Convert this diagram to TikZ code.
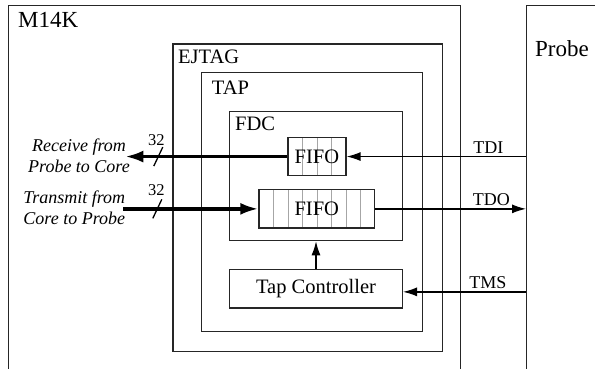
\documentclass[tikz,border=0pt]{standalone}
\usepackage{fontspec}
\setmainfont{Liberation Serif}
\usetikzlibrary{arrows.meta,positioning}
\tikzstyle{frame}   = [rectangle, draw=black!85, line width=1.3pt, inner sep=0pt, anchor=north west]
\tikzstyle{caption} = [anchor=base west, inner sep=0pt, font=\fontsize{20.5}{24}\selectfont]
\tikzstyle{block}   = [rectangle, draw=black!85, line width=1.3pt, inner sep=0pt, anchor=north west, minimum height=38.4pt, font=\fontsize{20.5}{24}\selectfont]
\tikzstyle{signal}  = [draw, line width=1.3pt, -{Latex[length=14pt,width=9pt]}]
\tikzstyle{bus}     = [draw, line width=3.3pt, -{Latex[length=18pt,width=12pt]}]
\tikzstyle{signame} = [above, inner sep=2.5pt, font=\fontsize{18}{21}\selectfont]
\tikzstyle{note}    = [anchor=north, inner sep=0pt, align=center, font=\fontsize{18}{21}\selectfont\itshape]
\tikzstyle{busmark} = [draw, line width=1.3pt]
\tikzset{cells/.style={path picture={
  \foreach \k in {1,...,#1}
    \draw[gray!70, line width=0.9pt] ([xshift=\k*14.5pt]path picture bounding box.south west) -- ([xshift=\k*14.5pt]path picture bounding box.north west);}}}

\begin{document}
\begin{tikzpicture}[x=1pt, y=-1pt]
            \useasboundingbox (0,0) rectangle (595,368);

            \node[frame, minimum width=452pt, minimum height=420pt] (m14k) at (8,4.7) {};
            \node[frame, minimum width=120pt, minimum height=420pt] (probe) at (526,4.7) {};
            \node[frame, minimum width=269.2pt, minimum height=307.4pt] (ejtag) at (172.3,43.3) {};
            \node[frame, minimum width=220.7pt, minimum height=259pt] (tap) at (201,72) {};
            \node[frame, minimum width=172.7pt, minimum height=129.3pt] (fdc) at (229,110.7) {};

            \node[caption, font=\fontsize{23}{26}\selectfont] (m14kname) at ([shift={(10,23)}]m14k.north west) {M14K};
            \node[caption, font=\fontsize{23}{26}\selectfont] (probename) at ([shift={(9,52)}]probe.north west) {Probe};
            \node[caption] (ejtagname) at ([shift={(5.7,20)}]ejtag.north west) {EJTAG};
            \node[caption] (tapname) at ([shift={(10.7,22)}]tap.north west) {TAP};
            \node[caption] (fdcname) at ([shift={(6,19.3)}]fdc.north west) {FDC};

            \node[block, cells=3, minimum width=58pt] (fifoin) at (287.3,136.7) {FIFO};
            \node[block, cells=7, minimum width=115.7pt] (fifoout) at (258.3,189) {FIFO};
            \node[block, minimum width=172.7pt] (tapctl) at (229,269) {Tap Controller};

            \coordinate[left=162pt of fifoin.west] (rxend);
            \coordinate[left=135pt of fifoout.west] (txstart);
            \coordinate[below=3pt of tapctl.east] (tmsin);
            \coordinate[right=33pt of rxend] (rxmark);
            \coordinate[right=34pt of txstart] (txmark);

            \path [signal] (probe.west |- fifoin.east) -- node[signame, pos=0.21] {TDI} (fifoin.east);
            \path [signal] (fifoout.east) -- node[signame, pos=0.77] {TDO} (probe.west |- fifoout.east);
            \path [signal] (probe.west |- tmsin) -- node[signame, pos=0.31] {TMS} (tmsin);
            \path [signal] (tapctl.north) -- (fdc.south);

            \path [bus] (fifoin.west) -- (rxend);
            \path [bus] (txstart) -- (fifoout.west);
            \path [busmark] ([shift={(-4.5,9.5)}]rxmark) -- ([shift={(4.5,-9.5)}]rxmark);
            \path [busmark] ([shift={(-4.5,9.5)}]txmark) -- ([shift={(4.5,-9.5)}]txmark);
            \node[anchor=base, inner sep=0pt, font=\fontsize{16.5}{19}\selectfont] (rxwidth) at ([shift={(-2,-11)}]rxmark) {32};
            \node[anchor=base, inner sep=0pt, font=\fontsize{16.5}{19}\selectfont] (txwidth) at ([shift={(-1,-13)}]txmark) {32};

            \node[note] (rxnote) at (79,138.5) {Receive from\\Probe to Core};
            \node[note] (txnote) at (74.3,190.5) {Transmit from\\Core to Probe};
        \end{tikzpicture}
\end{document}
